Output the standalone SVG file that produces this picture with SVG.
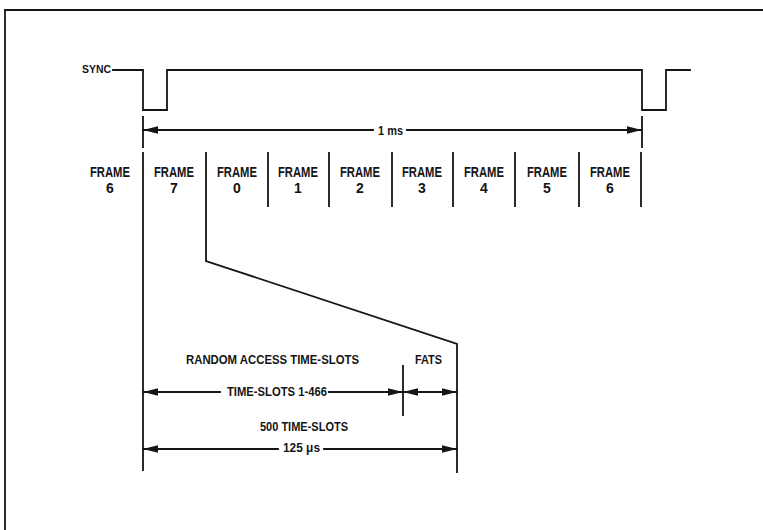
<svg xmlns="http://www.w3.org/2000/svg" width="763" height="530" viewBox="0 0 763 530">
<defs>
<style>
.ln{fill:none;stroke:#151515;stroke-width:1.8;stroke-linecap:square}
.t{font-family:"Liberation Sans",Arial,sans-serif;font-weight:bold;fill:#151515}
.f{font-size:14.5px}
.d{font-size:14px}
.l{font-size:13px}
</style>
<marker id="ah" markerUnits="userSpaceOnUse" viewBox="0 0 15 8" refX="15" refY="4" markerWidth="15" markerHeight="8" orient="auto-start-reverse">
<path d="M0,0.3 L15,4 L0,7.7 Z" fill="#151515"/>
</marker>
</defs>
<rect width="763" height="530" fill="#fff"/>
<g id="border">
<path class="ln" d="M5,530 V10 H763" stroke-width="2.5"/>
</g>
<g id="connectors">
<path id="sync-wave" class="ln" d="M113,70 H143 V110 H167 V70 H642 V110 H666 V70 H690"/>
<path class="ln" d="M143,117 V147 M642,117 V147"/>
<line class="ln" x1="373" y1="130" x2="143" y2="130" marker-end="url(#ah)"/>
<line class="ln" x1="407" y1="130" x2="642" y2="130" marker-end="url(#ah)"/>
<path class="ln" d="M143,153 V470 M206,153 V261 L457,344 V472 M268,153 V206 M329,153 V206 M392,153 V206 M453,153 V206 M515,153 V206 M579,153 V206 M641,153 V206"/>
<path class="ln" d="M403,366 V415"/>
<line class="ln" x1="220" y1="392" x2="143" y2="392" marker-end="url(#ah)"/>
<line class="ln" x1="329" y1="392" x2="403" y2="392" marker-end="url(#ah)"/>
<line class="ln" x1="403" y1="392" x2="457" y2="392" marker-start="url(#ah)" marker-end="url(#ah)"/>
<line class="ln" x1="278" y1="449" x2="143" y2="449" marker-end="url(#ah)"/>
<line class="ln" x1="324" y1="449" x2="457" y2="449" marker-end="url(#ah)"/>
</g>
<g id="sync-label"><text class="t" x="82" y="73" font-size="10.5" textLength="29" lengthAdjust="spacingAndGlyphs">SYNC</text></g>
<g id="label-1ms"><text class="t l" x="378" y="135" textLength="25" lengthAdjust="spacingAndGlyphs">1 ms</text></g>
<g id="frame-6a"><text class="t f" x="90" y="177" textLength="40" lengthAdjust="spacingAndGlyphs">FRAME</text><text class="t d" x="110" y="193" text-anchor="middle">6</text></g>
<g id="frame-7"><text class="t f" x="154" y="177" textLength="40" lengthAdjust="spacingAndGlyphs">FRAME</text><text class="t d" x="174" y="193" text-anchor="middle">7</text></g>
<g id="frame-0"><text class="t f" x="217" y="177" textLength="40" lengthAdjust="spacingAndGlyphs">FRAME</text><text class="t d" x="237" y="193" text-anchor="middle">0</text></g>
<g id="frame-1"><text class="t f" x="278" y="177" textLength="40" lengthAdjust="spacingAndGlyphs">FRAME</text><text class="t d" x="298" y="193" text-anchor="middle">1</text></g>
<g id="frame-2"><text class="t f" x="340" y="177" textLength="40" lengthAdjust="spacingAndGlyphs">FRAME</text><text class="t d" x="360" y="193" text-anchor="middle">2</text></g>
<g id="frame-3"><text class="t f" x="402" y="177" textLength="40" lengthAdjust="spacingAndGlyphs">FRAME</text><text class="t d" x="422" y="193" text-anchor="middle">3</text></g>
<g id="frame-4"><text class="t f" x="464" y="177" textLength="40" lengthAdjust="spacingAndGlyphs">FRAME</text><text class="t d" x="484" y="193" text-anchor="middle">4</text></g>
<g id="frame-5"><text class="t f" x="527" y="177" textLength="40" lengthAdjust="spacingAndGlyphs">FRAME</text><text class="t d" x="547" y="193" text-anchor="middle">5</text></g>
<g id="frame-6b"><text class="t f" x="590" y="177" textLength="40" lengthAdjust="spacingAndGlyphs">FRAME</text><text class="t d" x="610" y="193" text-anchor="middle">6</text></g>
<g id="random-access"><text class="t l" x="186" y="364" textLength="173" lengthAdjust="spacingAndGlyphs">RANDOM ACCESS TIME-SLOTS</text></g>
<g id="fats"><text class="t l" x="415" y="364" textLength="27" lengthAdjust="spacingAndGlyphs">FATS</text></g>
<g id="timeslots-1-466"><text class="t l" x="227" y="396" textLength="100" lengthAdjust="spacingAndGlyphs">TIME-SLOTS 1-466</text></g>
<g id="timeslots-500"><text class="t l" x="260" y="431" textLength="88" lengthAdjust="spacingAndGlyphs">500 TIME-SLOTS</text></g>
<g id="label-125us"><text class="t l" x="283" y="452" textLength="37" lengthAdjust="spacingAndGlyphs">125 μs</text></g>
</svg>
